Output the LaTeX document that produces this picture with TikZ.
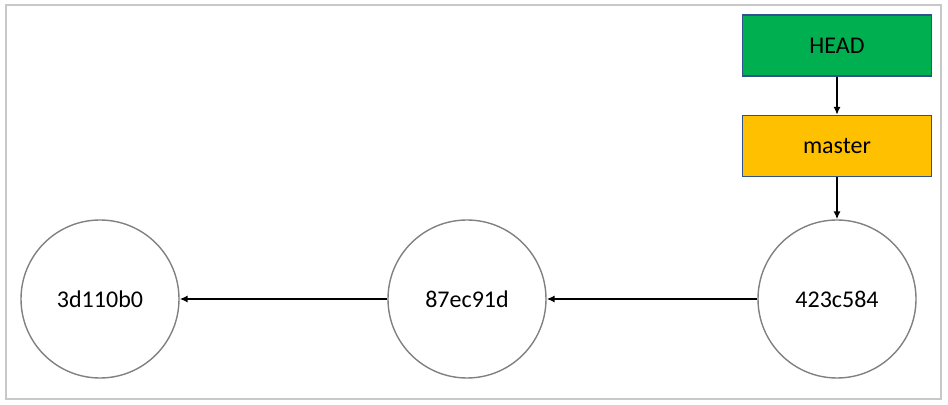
\documentclass[tikz,border=0pt]{standalone}
\usepackage{fontspec}
\setmainfont{Carlito}
\usetikzlibrary{arrows.meta}
\definecolor{headgreen}{RGB}{0,176,80}
\definecolor{masteryellow}{RGB}{255,192,0}
\definecolor{boxblue}{RGB}{47,82,143}
\definecolor{ringgray}{RGB}{128,128,128}
\definecolor{framegray}{RGB}{200,200,200}
\tikzset{
  commit/.style={draw=ringgray, line width=0.7pt, circle, minimum size=79pt, inner sep=0pt, font=\fontsize{12}{14}\selectfont},
  ref/.style={draw=boxblue, line width=0.7pt, rectangle, minimum width=94.5pt, minimum height=30.5pt, inner sep=0pt, font=\fontsize{12}{14}\selectfont},
  link/.style={-{Latex[length=4pt,width=3.6pt]}, line width=1.1pt, black}
}
\begin{document}
\begin{tikzpicture}[x=0.5pt, y=-0.5pt]
\useasboundingbox (0,0) rectangle (948,405);
\draw[framegray, line width=0.6pt] (6,5) rectangle (941,399);
\node[commit] (c1) at (100, 299) {3d110b0};
\node[commit] (c2) at (467, 299) {87ec91d};
\node[commit] (c3) at (837, 299) {423c584};
\node[ref, fill=headgreen] (head) at (837, 45.5) {HEAD};
\node[ref, fill=masteryellow] (master) at (837, 146) {master};
\draw[link] (head.south) -- (master.north);
\draw[link] (master.south) -- (c3.north);
\draw[link] (c3.west) -- (c2.east);
\draw[link] (c2.west) -- (c1.east);
\end{tikzpicture}
\end{document}
